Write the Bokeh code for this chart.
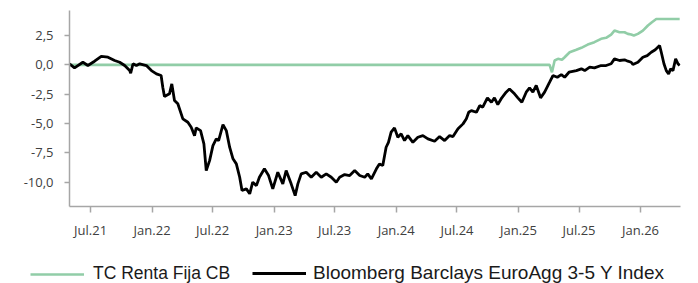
import pandas as pd
from bokeh.plotting import figure
from bokeh.models import Range1d, FixedTicker, Legend, LegendItem
from bokeh.embed import file_html
from bokeh.resources import INLINE

fund_name = "TC Renta Fija CB"
index_name = "Bloomberg Barclays EuroAgg 3-5 Y Index"

index_dates = [
    "2021-04-29", "2021-05-14", "2021-06-08", "2021-06-23", "2021-07-13", "2021-08-02",
    "2021-08-22", "2021-09-11", "2021-09-26", "2021-10-11", "2021-10-26", "2021-10-29",
    "2021-11-05", "2021-11-15", "2021-11-25", "2021-12-15", "2021-12-30", "2022-01-14",
    "2022-01-28", "2022-02-02", "2022-02-07", "2022-02-22", "2022-03-01", "2022-03-09",
    "2022-03-19", "2022-04-03", "2022-04-18", "2022-04-28", "2022-05-08", "2022-05-13",
    "2022-05-26", "2022-06-05", "2022-06-12", "2022-06-22", "2022-07-02", "2022-07-12",
    "2022-07-19", "2022-08-01", "2022-08-11", "2022-08-21", "2022-08-31", "2022-09-10",
    "2022-09-20", "2022-09-27", "2022-10-10", "2022-10-20", "2022-10-29", "2022-11-09",
    "2022-11-18", "2022-12-03", "2022-12-15", "2022-12-28", "2023-01-12", "2023-01-27",
    "2023-02-06", "2023-02-21", "2023-03-05", "2023-03-13", "2023-03-23", "2023-04-07",
    "2023-04-22", "2023-05-07", "2023-05-22", "2023-06-06", "2023-06-21", "2023-07-06",
    "2023-07-16", "2023-07-31", "2023-08-15", "2023-08-30", "2023-09-14", "2023-09-29",
    "2023-10-08", "2023-10-19", "2023-11-03", "2023-11-12", "2023-11-22", "2023-12-02",
    "2023-12-09", "2023-12-17", "2023-12-27", "2024-01-06", "2024-01-16", "2024-01-26",
    "2024-02-05", "2024-02-20", "2024-03-06", "2024-03-21", "2024-04-05", "2024-04-25",
    "2024-05-10", "2024-05-25", "2024-06-09", "2024-06-19", "2024-07-04", "2024-07-19",
    "2024-07-29", "2024-08-05", "2024-08-13", "2024-08-28", "2024-09-07", "2024-09-16",
    "2024-09-30", "2024-10-12", "2024-10-21", "2024-10-31", "2024-11-12", "2024-11-25",
    "2024-12-05", "2024-12-20", "2024-12-30", "2025-01-11", "2025-01-24", "2025-02-03",
    "2025-02-13", "2025-02-23", "2025-03-08", "2025-03-20", "2025-04-04", "2025-04-14",
    "2025-04-27", "2025-05-09", "2025-05-19", "2025-06-01", "2025-06-23", "2025-07-08",
    "2025-07-18", "2025-08-02", "2025-08-16", "2025-09-05", "2025-09-20", "2025-10-05",
    "2025-10-15", "2025-10-30", "2025-11-14", "2025-11-24", "2025-12-04", "2025-12-09",
    "2025-12-24", "2026-01-08", "2026-01-21", "2026-02-02", "2026-02-14", "2026-02-27",
    "2026-03-04", "2026-03-12", "2026-03-19", "2026-03-26", "2026-04-01", "2026-04-08",
    "2026-04-16", "2026-04-23", "2026-04-28",
]
index_values = [
    0.08, -0.26, 0.22, -0.06, 0.31, 0.73,
    0.65, 0.37, 0.22, -0.06, -0.49, -0.71,
    0.09, -0.06, 0.09, -0.06, -0.49, -0.77,
    -0.91, -1.91, -2.70, -2.47, -1.62, -3.04,
    -3.32, -4.60, -4.89, -5.32, -6.03, -5.37,
    -5.60, -6.73, -9.01, -8.16, -6.88, -6.31,
    -6.45, -5.09, -5.60, -7.02, -8.01, -8.44,
    -9.58, -10.71, -10.57, -10.99, -10.00, -10.29,
    -9.58, -8.86, -9.40, -10.57, -9.15, -10.14,
    -9.01, -10.14, -11.14, -10.14, -9.29, -9.15,
    -9.58, -9.15, -9.58, -9.29, -9.58, -10.00,
    -9.58, -9.35, -9.43, -9.01, -9.43, -9.58,
    -9.29, -9.72, -8.86, -8.44, -8.58, -7.02,
    -6.60, -5.74, -5.37, -6.17, -5.88, -6.45,
    -6.03, -6.60, -6.17, -6.03, -6.31, -6.51,
    -6.11, -6.45, -6.03, -6.11, -5.45, -5.03,
    -4.60, -4.04, -3.90, -4.04, -3.47, -3.61,
    -2.81, -3.19, -2.81, -3.38, -2.81, -2.33,
    -2.05, -2.47, -2.81, -3.19, -2.33, -1.96,
    -2.33, -1.76, -2.81, -2.33, -1.48, -0.91,
    -1.06, -0.83, -1.06, -0.63, -0.49, -0.34,
    -0.49, -0.20, -0.26, -0.06, -0.06, 0.09,
    0.51, 0.37, 0.43, 0.31, 0.22, 0.03,
    0.22, 0.65, 0.79, 1.07, 1.28, 1.64,
    1.07, 0.09, -0.49, -0.77, -0.34, -0.49,
    0.51, 0.09, -0.06,
]

fund_dates = [
    "2021-04-29", "2025-04-04", "2025-04-11", "2025-04-19", "2025-04-29", "2025-05-11",
    "2025-05-19", "2025-06-03", "2025-06-23", "2025-07-08", "2025-07-27", "2025-08-16",
    "2025-09-05", "2025-09-20", "2025-10-05", "2025-10-15", "2025-10-30", "2025-11-14",
    "2025-11-24", "2025-12-04", "2025-12-12", "2025-12-24", "2026-01-08", "2026-01-23",
    "2026-02-04", "2026-02-17", "2026-04-28",
]
fund_values = [
    0.0, 0.0, -0.63, 0.37, 0.51, 0.43,
    0.65, 1.07, 1.28, 1.45, 1.73, 1.93,
    2.22, 2.30, 2.58, 2.92, 2.78, 2.78,
    2.64, 2.58, 2.50, 2.64, 2.92, 3.35,
    3.63, 3.90, 3.90,
]

x_tick_dates = ["2021-07-01", "2022-01-01", "2022-07-01", "2023-01-01", "2023-07-01",
                "2024-01-01", "2024-07-01", "2025-01-01", "2025-07-01", "2026-01-01"]
x_tick_labels = ["Jul.21", "Jan.22", "Jul.22", "Jan.23", "Jul.23",
                 "Jan.24", "Jul.24", "Jan.25", "Jul.25", "Jan.26"]
y_ticks = [-10.0, -7.5, -5.0, -2.5, 0.0, 2.5]
y_tick_labels = ["-10,0", "-7,5", "-5,0", "-2,5", "0,0", "2,5"]

x_start = "2021-04-29"
x_end = "2026-04-30 12:00"
y_start, y_end = -12.07, 4.63

fund_color = "#91cda7"
index_color = "black"


def ms(d):
    return pd.Timestamp(d).value / 1e6


fund_x = [pd.Timestamp(d) for d in fund_dates]
index_x = [pd.Timestamp(d) for d in index_dates]

p = figure(
    width=698, height=261, x_axis_type="datetime",
    output_backend="svg", toolbar_location=None,
    x_range=Range1d(ms(x_start), ms(x_end)),
    y_range=Range1d(y_start, y_end),
    min_border_left=69, min_border_right=18, min_border_top=10, min_border_bottom=55,
)
p.outline_line_color = None
p.xgrid.visible = False
p.ygrid.visible = False

p.line(fund_x, fund_values, line_color=fund_color, line_width=2.6)
p.line(index_x, index_values, line_color=index_color, line_width=2.8)

axis_color = "#a6a6a6"
label_color = "#404040"

xt = [ms(d) for d in x_tick_dates]
p.xaxis.ticker = FixedTicker(ticks=xt)
p.xaxis.major_label_overrides = {t: l for t, l in zip(xt, x_tick_labels)}
p.xaxis.axis_line_color = axis_color
p.xaxis.axis_line_width = 1.5
p.xaxis.major_tick_line_color = axis_color
p.xaxis.major_tick_line_width = 1.5
p.xaxis.major_tick_in = 0
p.xaxis.major_tick_out = 6
p.xaxis.minor_tick_line_color = None
p.xaxis.major_label_standoff = 8
p.xaxis.major_label_text_font = "Open Sans"
p.xaxis.major_label_text_font_size = "13px"
p.xaxis.major_label_text_color = label_color

p.yaxis.ticker = FixedTicker(ticks=y_ticks)
p.yaxis.major_label_overrides = {t: l for t, l in zip(y_ticks, y_tick_labels)}
p.yaxis.axis_line_color = axis_color
p.yaxis.axis_line_width = 1.5
p.yaxis.major_tick_line_color = axis_color
p.yaxis.major_tick_line_width = 1.5
p.yaxis.major_tick_in = 0
p.yaxis.major_tick_out = 5
p.yaxis.minor_tick_line_color = None
p.yaxis.major_label_standoff = 11
p.yaxis.major_label_text_font = "Open Sans"
p.yaxis.major_label_text_font_size = "13px"
p.yaxis.major_label_text_color = label_color

# legend strip below the chart (separate root, full-width frame)
lg = figure(
    width=698, height=22, output_backend="svg", toolbar_location=None,
    x_axis_location=None, y_axis_location=None,
    x_range=Range1d(0, 1), y_range=Range1d(0, 1),
    min_border=0,
)
lg.outline_line_color = None
lg.xgrid.visible = False
lg.ygrid.visible = False
g2 = lg.line(fund_x, fund_values, line_color=fund_color, line_width=2.6)
b2 = lg.line(index_x, index_values, line_color=index_color, line_width=2.8)

common = dict(
    orientation="horizontal", padding=0, margin=0, spacing=0,
    glyph_width=54, glyph_height=20, label_height=20,
    label_text_font="Liberation Sans", label_text_color="#1a1a1a",
    border_line_color=None, background_fill_alpha=0,
)
legend1 = Legend(items=[LegendItem(label=fund_name, renderers=[g2])],
                 location=(30, -1), label_standoff=9,
                 label_text_font_size="17.5px", **common)
legend2 = Legend(items=[LegendItem(label=index_name, renderers=[b2])],
                 location=(252, -1), label_standoff=7,
                 label_text_font_size="19px", **common)
lg.add_layout(legend1, "center")
lg.add_layout(legend2, "center")

open("out.html", "w").write(file_html([p, lg], INLINE))
